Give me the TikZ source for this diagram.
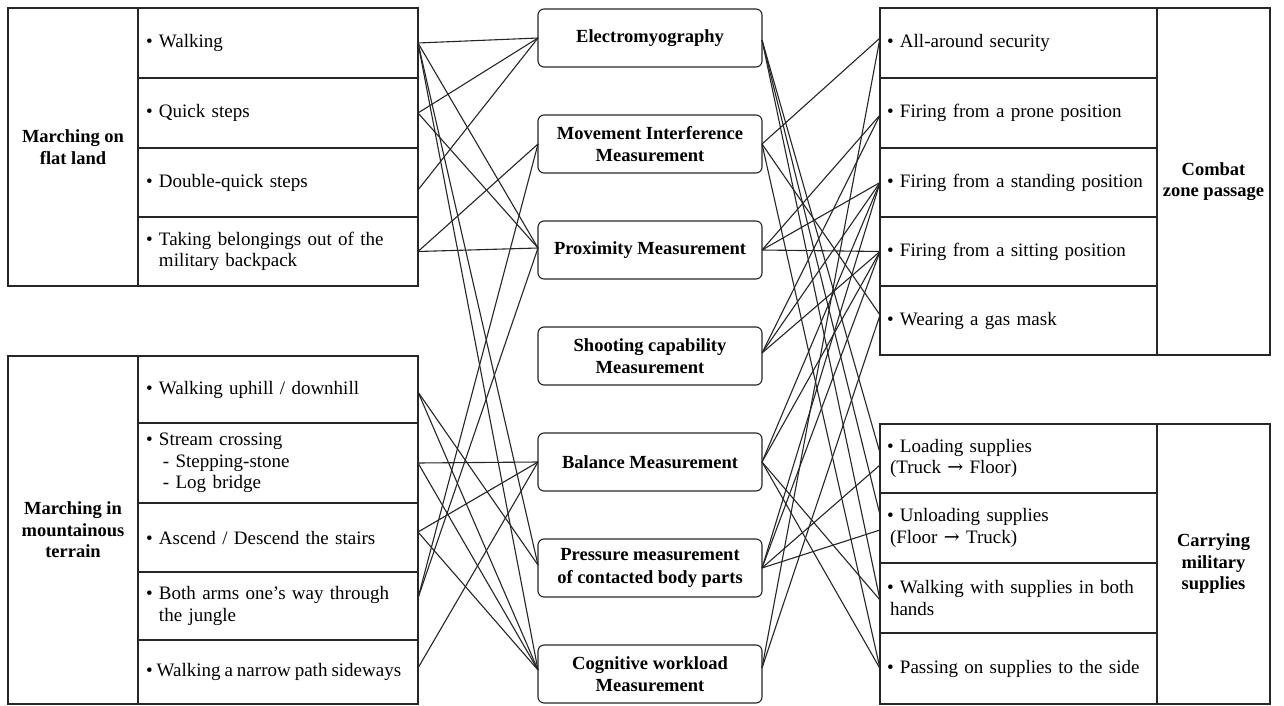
\documentclass[tikz,border=0pt]{standalone}
\usepackage{fontspec}
\setmainfont{Liberation Serif}
\newfontfamily\arrowfont{DejaVu Serif}
\newcommand\rarr{{\arrowfont →}}
\begin{document}
\begin{tikzpicture}[x=1pt,y=-1pt,
  cellbox/.style={draw=black!85, line width=1.3pt, anchor=north west, inner sep=0pt, outer sep=0pt},
  itemL/.style={cellbox, minimum width=280pt, text width=264pt, inner xsep=8pt, align=left,
     minimum height=#1, font=\fontsize{19}{21.5}\selectfont},
  itemR/.style={cellbox, minimum width=277pt, text width=263pt, inner xsep=7pt, align=left,
     minimum height=#1, font=\fontsize{19}{21.5}\selectfont},
  labelcell/.style={cellbox, align=center, font=\bfseries\fontsize{18.5}{21.5}\selectfont},
  midbox/.style={draw=black!85, line width=1.1pt, rounded corners=6pt, minimum width=224pt,
     minimum height=58pt, align=center, inner sep=0pt, outer sep=0pt,
     font=\bfseries\fontsize{18.5}{22.5}\selectfont},
  conn/.style={draw=black!85, line width=1.1pt}
]
\useasboundingbox (0,0) rectangle (1284,706);
\fill[white] (0,0) rectangle (1284,706);

% ---------- left top ----------
\node[labelcell, minimum width=130pt, minimum height=278pt] (LT) at (8,8) {Marching on\\flat land};
\node[itemL=70pt] (L1) at (138,8)   {• Walking};
\node[itemL=70pt] (L2) at (138,78)  {• Quick steps};
\node[itemL=69pt] (L3) at (138,148) {• Double-quick steps};
\node[itemL=69pt] (L4) at (138,217) {• Taking belongings out of the\\\phantom{•}\ military backpack};

% ---------- left bottom ----------
\node[labelcell, minimum width=130pt, minimum height=348pt] (LB) at (8,356) {Marching in\\mountainous\\terrain};
\node[itemL=67pt] (L5) at (138,356) {• Walking uphill / downhill};
\node[itemL=80pt] (L6) at (138,423) {• Stream crossing\\\phantom{•}\ \hspace{4pt}- Stepping-stone\\\phantom{•}\ \hspace{4pt}- Log bridge};
\node[itemL=69pt] (L7) at (138,503) {• Ascend / Descend the stairs};
\node[itemL=68pt] (L8) at (138,572) {• Both arms one's way through\\\phantom{•}\ the jungle};
\node[itemL=64pt] (L9) at (138,640) {\spaceskip=4pt\mbox{• Walking a narrow path sideways}};

% ---------- middle ----------
\node[midbox] (M1) at (650,38)  {Electromyography};
\node[midbox] (M2) at (650,144) {Movement Interference\\Measurement};
\node[midbox] (M3) at (650,250) {Proximity Measurement};
\node[midbox] (M4) at (650,356) {Shooting capability\\Measurement};
\node[midbox] (M5) at (650,462) {Balance Measurement};
\node[midbox] (M6) at (650,568) {Pressure measurement\\of contacted body parts};
\node[midbox] (M7) at (650,674) {Cognitive workload\\Measurement};

% ---------- right top ----------
\node[itemR=70pt] (R1) at (880,8)   {• All-around security};
\node[itemR=70pt] (R2) at (880,78)  {• Firing from a prone position};
\node[itemR=69pt] (R3) at (880,148) {• Firing from a standing position};
\node[itemR=69pt] (R4) at (880,217) {• Firing from a sitting position};
\node[itemR=69pt] (R5) at (880,286) {• Wearing a gas mask};
\node[labelcell, minimum width=113pt, minimum height=347pt] (RT) at (1157,8) {Combat\\zone passage};

% ---------- right bottom ----------
\node[itemR=69pt] (R6) at (880,424) {• Loading supplies\\\hspace{3pt}(Truck \rarr{} Floor)};
\node[itemR=70pt] (R7) at (880,493) {• Unloading supplies\\\hspace{3pt}(Floor \rarr{} Truck)};
\node[itemR=70pt] (R8) at (880,563) {• Walking with supplies in both\\\hspace{3pt}hands};
\node[itemR=71pt] (R9) at (880,633) {• Passing on supplies to the side};
\node[labelcell, minimum width=113pt, minimum height=280pt] (RB) at (1157,424) {Carrying\\military\\supplies};

% ---------- connectors: left ----------
\draw[conn] (L1.east) -- (M1.west);
\draw[conn] (L1.east) -- ([yshift=2pt]M3.west);
\draw[conn] (L1.east) -- ([yshift=3pt]M6.west);
\draw[conn] (L1.east) -- ([yshift=4pt]M7.west);
\draw[conn] (L2.east) -- (M1.west);
\draw[conn] (L2.east) -- ([yshift=2pt]M3.west);
\draw[conn] ([yshift=-7.5pt]L3.east) -- (M1.west);
\draw[conn] (L4.east) -- (M2.west);
\draw[conn] (L4.east) -- ([yshift=2pt]M3.west);
\draw[conn] ([yshift=-2.5pt]L5.east) -- ([yshift=3pt]M6.west);
\draw[conn] ([yshift=-2.5pt]L5.east) -- ([yshift=4pt]M7.west);
\draw[conn] (L6.east) -- (M5.west);
\draw[conn] (L6.east) -- ([yshift=4pt]M7.west);
\draw[conn] ([yshift=5.5pt]L7.east) -- (M5.west);
\draw[conn] ([yshift=5.5pt]L7.east) -- ([yshift=4pt]M7.west);
\draw[conn] ([yshift=8pt]L8.east) -- (M2.west);
\draw[conn] ([yshift=8pt]L8.east) -- ([yshift=2pt]M3.west);
\draw[conn] ([yshift=4pt]L9.east) -- (M5.west);

% ---------- connectors: right ----------
\draw[conn] ([yshift=-2pt]M1.east) -- ([yshift=5.5pt]R6.west);
\draw[conn] ([yshift=-2pt]M1.east) -- ([yshift=13pt]R7.west);
\draw[conn] ([yshift=-2pt]M1.east) -- ([yshift=-2pt]R8.west);
\draw[conn] (M2.east) -- ([yshift=5pt]R1.west);
\draw[conn] (M2.east) -- ([yshift=5.5pt]R5.west);
\draw[conn] (M2.east) -- (R9.west);
\draw[conn] (M3.east) -- ([yshift=-2pt]R2.west);
\draw[conn] (M3.east) -- (R3.west);
\draw[conn] (M3.east) -- (R4.west);
\draw[conn] ([yshift=3pt]M4.east) -- ([yshift=-2pt]R2.west);
\draw[conn] ([yshift=3pt]M4.east) -- (R3.west);
\draw[conn] ([yshift=3pt]M4.east) -- (R4.west);
\draw[conn] (M5.east) -- (R3.west);
\draw[conn] (M5.east) -- (R4.west);
\draw[conn] (M5.east) -- ([yshift=-2pt]R8.west);
\draw[conn] (M5.east) -- (R9.west);
\draw[conn] (M6.east) -- (R3.west);
\draw[conn] (M6.east) -- (R4.west);
\draw[conn] (M6.east) -- ([yshift=-6.5pt]R6.west);
\draw[conn] (M6.east) -- ([yshift=-2pt]R7.west);
\draw[conn] ([yshift=6pt]M7.east) -- ([yshift=5pt]R1.west);
\draw[conn] ([yshift=6pt]M7.east) -- ([yshift=5.5pt]R5.west);
\end{tikzpicture}
\end{document}
